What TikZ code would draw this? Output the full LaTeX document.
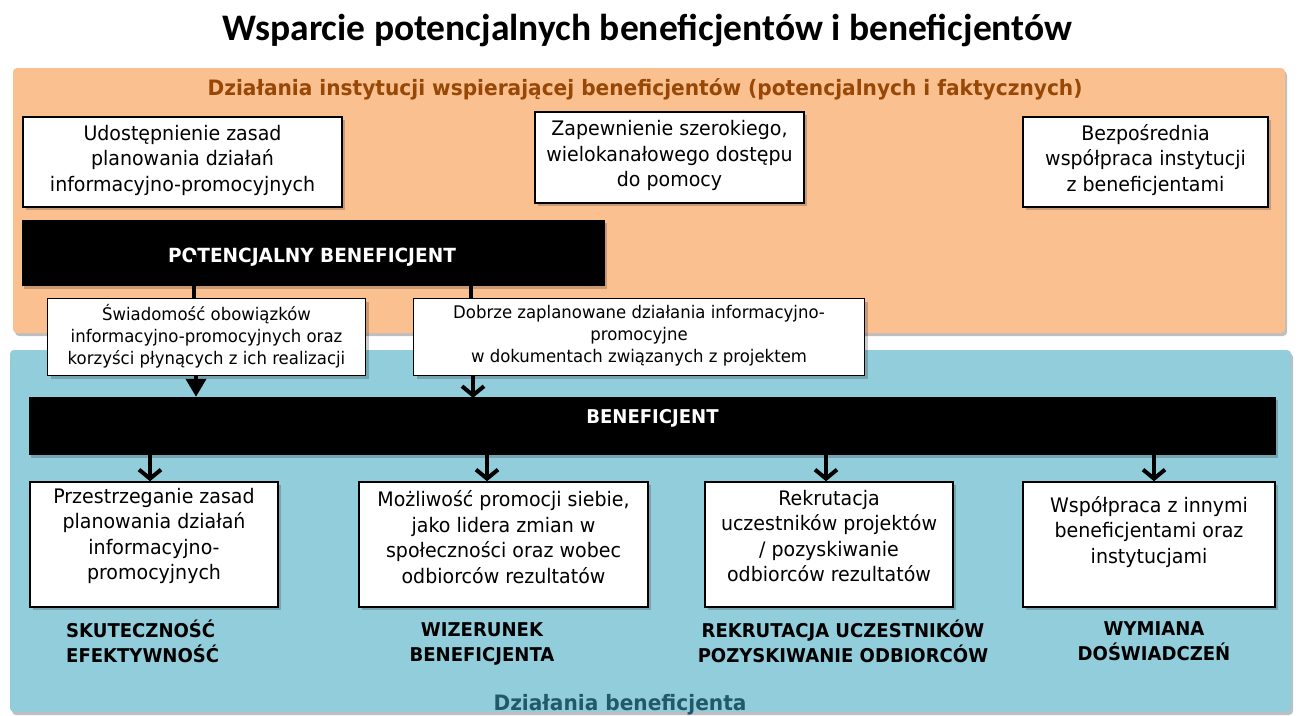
\documentclass[tikz,border=0pt]{standalone}
\usepackage{fontspec}
\setmainfont{DejaVu Sans}[FakeStretch=0.95]
\newfontfamily\titlefont{Carlito}
\usetikzlibrary{arrows.meta,shadows}
\definecolor{orpanel}{HTML}{FAC08F}
\definecolor{blpanel}{HTML}{92CDDC}
\definecolor{ortext}{HTML}{974706}
\definecolor{bltext}{HTML}{215968}
\tikzset{
  panelbox/.style={rounded corners=4pt, inner sep=0pt, drop shadow={shadow xshift=2pt, shadow yshift=-3pt, opacity=0.25, fill=black}},
  wbox/.style={draw=black, line width=1.6pt, fill=white, inner sep=0pt, align=center,
    drop shadow={shadow xshift=3pt, shadow yshift=-3pt, opacity=0.2, fill=black}},
  blackbar/.style={fill=black, inner sep=0pt, drop shadow={shadow xshift=2pt, shadow yshift=-3pt, opacity=0.2, fill=black}},
  bigtxt/.style={font=\fontsize{20}{25.5}\selectfont, align=center, inner sep=0pt},
  smalltxt/.style={font=\fontsize{17.4}{22}\selectfont, align=center, inner sep=0pt},
  bartxt/.style={font=\bfseries\fontsize{19.5}{24}\selectfont, text=white, inner sep=0pt, anchor=base},
  labtxt/.style={font=\bfseries\fontsize{19}{25}\selectfont, inner sep=0pt},
  headtxt/.style={font=\bfseries\fontsize{21.2}{25}\selectfont, inner sep=0pt, anchor=base},
  conn/.style={line width=4pt},
  barb/.style={line width=4pt, -{Straight Barb[length=9pt, width=22pt]}},
  tri/.style={line width=4pt, -{Triangle[length=18pt, width=20pt]}}
}
\begin{document}
\begin{tikzpicture}[x=1pt,y=-1pt]
\useasboundingbox (0,0) rectangle (1298,715);
\fill[white] (0,0) rectangle (1298,715);

% title
\node[font=\titlefont\bfseries\fontsize{37.5}{42}\selectfont, inner sep=0pt, anchor=base] (title) at (647.5,40) {Wsparcie potencjalnych beneficjentów i beneficjentów};

% panels
\node[panelbox, fill=orpanel, minimum width=1272pt, minimum height=265pt] (op) at (649,200.5) {};
\node[panelbox, fill=blpanel, minimum width=1281pt, minimum height=362pt] (bp) at (650.5,531) {};

\node[headtxt, text=ortext] (ophead) at (645,95) {Działania instytucji wspierającej beneficjentów (potencjalnych i faktycznych)};
\node[headtxt, text=bltext] (bphead) at (620,710) {Działania beneficjenta};

% top boxes
\node[wbox, minimum width=319pt, minimum height=90pt] (udo) at (182.5,162) {};
\node[bigtxt] at (182.5,160) {Udostępnienie zasad\\planowania działań\\informacyjno-promocyjnych};
\node[wbox, minimum width=269pt, minimum height=91pt] (zap) at (669.5,157.5) {};
\node[bigtxt] at (669.5,155.5) {Zapewnienie szerokiego,\\wielokanałowego dostępu\\do pomocy};
\node[wbox, minimum width=245pt, minimum height=90pt] (bez) at (1145.5,162) {};
\node[bigtxt] at (1145.5,160) {Bezpośrednia\\współpraca instytucji\\z beneficjentami};

% potential beneficiary bar
\node[blackbar, minimum width=583pt, minimum height=66pt] (pb) at (313.5,253) {};
\node[bartxt] (pbtxt) at (312,262) {POTENCJALNY BENEFICJENT};

% connectors from bar 1
\draw[conn] ([xshift=-119.5pt,yshift=31pt]pb.south) -- ([xshift=-119.5pt]pb.south |- 0,299);
\draw[conn] ([xshift=157.5pt]pb.south) -- ([xshift=157.5pt]pb.south |- 0,299);

% middle boxes
\node[wbox, minimum width=318pt, minimum height=77pt] (sw) at (206.5,337) {};
\node[smalltxt] at (206.5,336) {Świadomość obowiązków\\informacyjno-promocyjnych oraz\\korzyści płynących z ich realizacji};
\node[wbox, minimum width=451pt, minimum height=77pt] (dob) at (639,337) {};
\node[smalltxt] at (639,336) {Dobrze zaplanowane działania informacyjno-\\promocyjne\\w dokumentach związanych z projektem};

% beneficiary bar
\node[blackbar, minimum width=1247pt, minimum height=58pt] (ben) at (652.5,426) {};
\node[bartxt, font=\bfseries\fontsize{19}{24}\selectfont] (bentxt) at (652.5,423) {BENEFICJENT};

% arrows into bar 2
\draw[tri] ([xshift=-10.5pt]sw.south) -- ([xshift=-10.5pt]sw.south |- ben.north);
\draw[barb] ([xshift=-166pt]dob.south) -- ([xshift=-166pt,yshift=-1pt]dob.south |- ben.north);

% bottom boxes
\node[wbox, minimum width=248pt, minimum height=125pt] (ba) at (154,544.5) {};
\node[bigtxt] at (154,536) {Przestrzeganie zasad\\planowania działań\\informacyjno-\\promocyjnych};
\node[wbox, minimum width=289pt, minimum height=125pt] (bb) at (503.5,544.5) {};
\node[bigtxt] at (503.5,537) {Możliwość promocji siebie,\\jako lidera zmian w\\społeczności oraz wobec\\odbiorców rezultatów};
\node[wbox, minimum width=248pt, minimum height=125pt] (bc) at (829,544.5) {};
\node[bigtxt] at (829,536) {Rekrutacja\\uczestników projektów\\/ pozyskiwanie\\odbiorców rezultatów};
\node[wbox, minimum width=252pt, minimum height=125pt] (bd) at (1149,544.5) {};
\node[bigtxt] at (1149,532) {Współpraca z innymi\\beneficjentami oraz\\instytucjami};

% arrows from bar 2
\draw[barb] ([xshift=-4pt]ba.north |- 0,443) -- ([xshift=-4pt]ba.north);
\draw[barb] ([xshift=-16.5pt]bb.north |- 0,443) -- ([xshift=-16.5pt]bb.north);
\draw[barb] ([xshift=-3pt]bc.north |- 0,443) -- ([xshift=-3pt]bc.north);
\draw[barb] ([xshift=5pt]bd.north |- 0,443) -- ([xshift=5pt]bd.north);

% bottom labels
\node[labtxt, anchor=west, align=left] (la) at (66,641) {SKUTECZNOŚĆ\\EFEKTYWNOŚĆ};
\node[labtxt, align=center] (lb) at (482,644) {WIZERUNEK\\BENEFICJENTA};
\node[labtxt, align=center] (lc) at (843,641) {REKRUTACJA UCZESTNIKÓW\\POZYSKIWANIE ODBIORCÓW};
\node[labtxt, align=center] (ld) at (1154,641) {WYMIANA\\DOŚWIADCZEŃ};
\end{tikzpicture}
\end{document}
